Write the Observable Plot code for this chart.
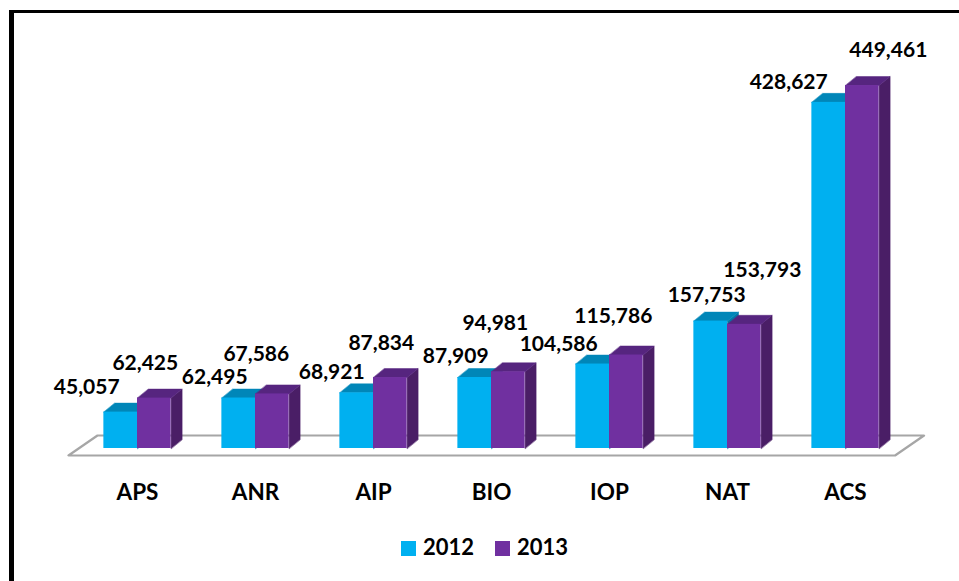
<!DOCTYPE html>
<html>
<head>
<meta charset="utf-8">
<script src="https://cdn.jsdelivr.net/npm/d3@7"></script>
<script src="https://cdn.jsdelivr.net/npm/@observablehq/plot@0.6"></script>
<style>
  html, body { margin: 0; padding: 0; background: #fff; }
  #wrap { position: relative; width: 959px; height: 581px; overflow: hidden; background: #fff; font-family: Lato, "Open Sans", sans-serif; }
  #chart svg { display: block; }
  .frameL { position: absolute; left: 9px; top: 10px; width: 5px; height: 571px; background: #000; }
  .frameT { position: absolute; left: 9px; top: 10px; width: 950px; height: 3px; background: #000; }
  #legend { position: absolute; left: 0; top: 528px; width: 959px; height: 40px; }
  .sw { position: absolute; top: 13px; width: 15px; height: 15px; }
  .lt { position: absolute; top: 4px; font-weight: 700; font-size: 22px; line-height: 30px; color: #000; }
</style>
</head>
<body>
<div id="wrap">
  <div id="chart"></div>
  <div id="legend"></div>
  <div class="frameL"></div>
  <div class="frameT"></div>
</div>
<script>
// ---- data ----
const categories = ["APS", "ANR", "AIP", "BIO", "IOP", "NAT", "ACS"];
const values2012 = [45057, 62495, 68921, 87909, 104586, 157753, 428627];
const values2013 = [62425, 67586, 87834, 94981, 115786, 153793, 449461];
const seriesNames = ["2012", "2013"];
// manual label nudges (pixels) relative to the top centre of each bar
const nudge2012 = [[-34, -25], [-24, -21], [-25, -21], [-19, -21], [-34, -20], [-4, -26], [-40, -20]];
const nudge2013 = [[-9, -35], [-16, -40], [-9, -34], [-13, -49], [-13, -39], [18, -54], [26, -35]];

// ---- styles / geometry ----
const W = 959, H = 528;
const mL = 78, mR = 55, mT = 20, mB = 80;
const yMax = 530000;
const pxPerUnitY = (H - mT - mB) / yMax;
const pxPerUnitX = (W - mL - mR) / 7;
const BAR_W = 0.285;
const DX = 11 / pxPerUnitX;     // depth in x units
const DY = 9 / pxPerUnitY;      // depth in y units
const colors = {
  "2012": {front: "#00B0F0", top: "#0086B8", side: "#007AA8"},
  "2013": {front: "#7030A0", top: "#56257F", side: "#4A1E66"}
};

function build(values, series, offset) {
  const fronts = [], tops = [], sides = [];
  values.forEach((v, i) => {
    const x1 = i + offset, x2 = x1 + BAR_W;
    fronts.push({cat: categories[i], x1, x2, v});
    const id = series + i;
    tops.push({id, x: x1, y: v}, {id, x: x2, y: v}, {id, x: x2 + DX, y: v + DY}, {id, x: x1 + DX, y: v + DY});
    sides.push({id, x: x2, y: 0}, {id, x: x2, y: v}, {id, x: x2 + DX, y: v + DY}, {id, x: x2 + DX, y: DY});
  });
  return {fronts, tops, sides};
}
const s2012 = build(values2012, "2012", -BAR_W);
const s2013 = build(values2013, "2013", 0);

// floor parallelogram
const fl = -0.585, fr = 6.42, shiftX = 29 / pxPerUnitX;
const yFront = -7 / pxPerUnitY, yBack = 13 / pxPerUnitY;
const floor = [
  {x: fl, y: yFront}, {x: fr, y: yFront}, {x: fr + shiftX, y: yBack}, {x: fl + shiftX, y: yBack}
];

function seriesMarks(s, name) {
  const c = colors[name];
  return [
    Plot.line(s.sides, {x: "x", y: "y", z: "id", fill: c.side, stroke: c.side, strokeWidth: 0.5, curve: "linear-closed"}),
    Plot.line(s.tops, {x: "x", y: "y", z: "id", fill: c.top, stroke: c.top, strokeWidth: 0.5, curve: "linear-closed"}),
    Plot.rect(s.fronts, {x1: "x1", x2: "x2", y1: 0, y2: "v", fill: c.front})
  ];
}

const fmt = d3.format(",");
function labelMarks(s, nudges) {
  return s.fronts.map((d, i) => Plot.text([d], {
    x: d => (d.x1 + d.x2) / 2, y: "v", text: d => fmt(d.v),
    dx: nudges[i][0], dy: nudges[i][1],
    fontSize: 21, fontWeight: 700, fill: "#000", textAnchor: "middle", lineAnchor: "middle"
  }));
}

const chart = Plot.plot({
  width: W, height: H,
  marginLeft: mL, marginRight: mR, marginTop: mT, marginBottom: mB,
  style: {fontFamily: "Lato, 'Open Sans', sans-serif", background: "transparent", overflow: "visible"},
  x: {type: "linear", domain: [-0.5, 6.5], axis: null},
  y: {type: "linear", domain: [0, yMax], axis: null},
  marks: [
    Plot.line(floor, {x: "x", y: "y", fill: "#fff", stroke: "#A6A6A6", strokeWidth: 2.2, curve: "linear-closed"}),
    ...seriesMarks(s2012, "2012"),
    ...seriesMarks(s2013, "2013"),
    ...labelMarks(s2012, nudge2012),
    ...labelMarks(s2013, nudge2013),
    Plot.text(categories, {x: (d, i) => i, y: () => 0, text: d => d, dy: 44,
      fontSize: 22.5, fontWeight: 700, fill: "#000", textAnchor: "middle", lineAnchor: "middle"})
  ]
});
document.getElementById("chart").appendChild(chart);

// legend
const legend = document.getElementById("legend");
const legendPos = [{sw: 401, tx: 423}, {sw: 495, tx: 517}];
seriesNames.forEach((name, i) => {
  const sw = document.createElement("div");
  sw.className = "sw";
  sw.style.left = legendPos[i].sw + "px";
  sw.style.background = colors[name].front;
  const t = document.createElement("div");
  t.className = "lt";
  t.style.left = legendPos[i].tx + "px";
  t.textContent = name;
  legend.appendChild(sw);
  legend.appendChild(t);
});
</script>
</body>
</html>
